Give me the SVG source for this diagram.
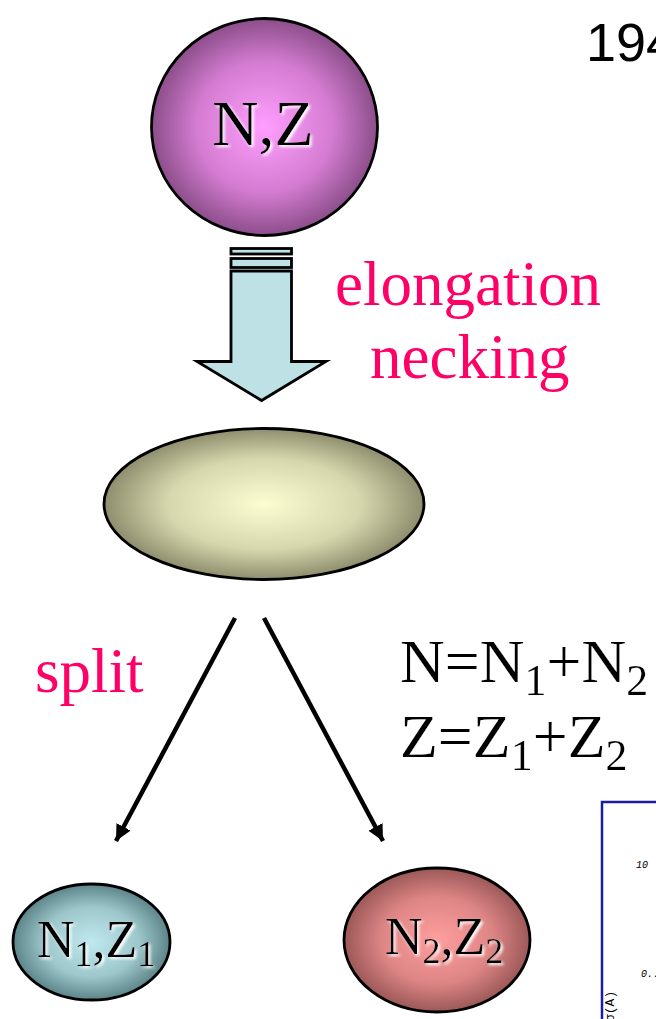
<svg xmlns="http://www.w3.org/2000/svg" width="656" height="1019" viewBox="0 0 656 1019">
<style>
.lbl{font-family:"Liberation Serif","Times New Roman",serif;fill:#000}
.pink{font-family:"Liberation Serif","Times New Roman",serif;fill:#FF0066;font-size:63px}
.node{stroke:#000;stroke-width:2.8}
.conn{stroke:#000;stroke-width:4.5;fill:none}
.mono{font-family:"Liberation Mono","Courier New",monospace;font-style:italic;font-size:10px;fill:#000}
</style>
<defs>
<radialGradient id="gPurple" cx="0.5" cy="0.5" r="0.5">
<stop offset="0" stop-color="#FF9EFF"/><stop offset="0.6" stop-color="#D47CD1"/><stop offset="1" stop-color="#8C4E8A"/>
</radialGradient>
<radialGradient id="gYellow" cx="0.5" cy="0.5" r="0.5">
<stop offset="0" stop-color="#FDFDD2"/><stop offset="0.6" stop-color="#D7D7AE"/><stop offset="1" stop-color="#8E8E6E"/>
</radialGradient>
<radialGradient id="gCyan" cx="0.5" cy="0.5" r="0.5">
<stop offset="0" stop-color="#BFE9EE"/><stop offset="0.6" stop-color="#9DC7CB"/><stop offset="1" stop-color="#5D8589"/>
</radialGradient>
<radialGradient id="gRed" cx="0.5" cy="0.5" r="0.5">
<stop offset="0" stop-color="#FF9E9E"/><stop offset="0.6" stop-color="#DD8585"/><stop offset="1" stop-color="#9C5858"/>
</radialGradient>
<filter id="glow" x="-10%" y="-10%" width="130%" height="130%">
<feGaussianBlur in="SourceAlpha" stdDeviation="1.5" result="b"/>
<feOffset in="b" dx="2" dy="2" result="o"/>
<feFlood flood-color="#fff"/>
<feComposite in2="o" operator="in" result="s"/>
<feMerge><feMergeNode in="s"/><feMergeNode in="SourceGraphic"/></feMerge>
</filter>
<marker id="ah" markerUnits="userSpaceOnUse" markerWidth="20" markerHeight="20" refX="16" refY="8" orient="auto">
<path d="M0,0 L16,8 L0,16 Z" fill="#000"/>
</marker>
</defs>

<text x="586" y="61" font-family="Liberation Sans, Arial, sans-serif" font-size="54" fill="#000">194</text>

<g id="node-nz">
<ellipse class="node" cx="264.5" cy="127" rx="113" ry="108.5" fill="url(#gPurple)"/>
<text class="lbl" x="263" y="145" font-size="64" text-anchor="middle" filter="url(#glow)">N,Z</text>
</g>

<g id="arrow-elongation">
<rect x="231" y="248.5" width="60.5" height="5.5" fill="#BDE1E4" stroke="#000" stroke-width="2.8"/>
<rect x="231" y="258.5" width="60.5" height="9" fill="#BDE1E4" stroke="#000" stroke-width="2.8"/>
<path d="M231,271 L291.5,271 L291.5,361.5 L326,361.5 L261.5,400.5 L197,361.5 L231,361.5 Z" fill="#BDE1E4" stroke="#000" stroke-width="2.8" stroke-linejoin="miter"/>
</g>
<text class="pink" x="335" y="305">elongation</text>
<text class="pink" x="370" y="378">necking</text>

<g id="node-elongated">
<ellipse class="node" cx="264" cy="504" rx="160" ry="75.5" fill="url(#gYellow)"/>
</g>

<g id="connectors">
<line class="conn" x1="235" y1="618" x2="116" y2="841" marker-end="url(#ah)"/>
<line class="conn" x1="264" y1="618" x2="383" y2="841" marker-end="url(#ah)"/>
</g>

<text class="pink" x="35" y="692" font-size="60">split</text>

<g id="equations" class="lbl" filter="url(#glow)">
<text x="400" y="682" font-size="62">N=N<tspan font-size="44" dy="13">1</tspan><tspan dy="-13">+N</tspan><tspan font-size="44" dy="13">2</tspan></text>
<text x="400" y="757" font-size="62">Z=Z<tspan font-size="44" dy="13">1</tspan><tspan dy="-13">+Z</tspan><tspan font-size="44" dy="13">2</tspan></text>
</g>

<g id="node-n1z1">
<ellipse class="node" cx="91.5" cy="942" rx="78.5" ry="58" fill="url(#gCyan)"/>
<text class="lbl" x="37" y="957" font-size="52" filter="url(#glow)">N<tspan font-size="36" dy="9">1</tspan><tspan dy="-9">,Z</tspan><tspan font-size="36" dy="9">1</tspan></text>
</g>

<g id="node-n2z2">
<ellipse class="node" cx="437" cy="940" rx="93" ry="72" fill="url(#gRed)"/>
<text class="lbl" x="385" y="954" font-size="52" filter="url(#glow)">N<tspan font-size="36" dy="9">2</tspan><tspan dy="-9">,Z</tspan><tspan font-size="36" dy="9">2</tspan></text>
</g>

<g id="graph-fragment">
<rect x="602" y="802" width="120" height="260" fill="#fff" stroke="#1C1C9C" stroke-width="2.5"/>
<text class="mono" x="636" y="868">10</text>
<text class="mono" x="641" y="977">0..</text>
<text font-family="Liberation Mono, Courier New, monospace" font-size="13" fill="#000" transform="translate(614,1022) rotate(-90)">σ(A)</text>
</g>
</svg>
